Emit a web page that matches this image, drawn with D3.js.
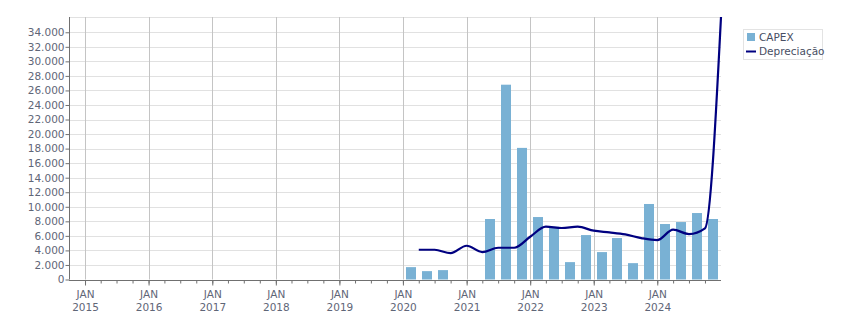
<!DOCTYPE html>
<html>
<head>
<meta charset="utf-8">
<script src="https://cdn.jsdelivr.net/npm/d3@7"></script>
<style>
  html, body { margin: 0; padding: 0; background: #fff; }
  svg text { font-family: "DejaVu Sans", Verdana, sans-serif; }
</style>
</head>
<body>
<svg id="chart" width="851" height="313"></svg>
<script>
// ---- Data ----
const capexDates = ["2020-Q1","2020-Q2","2020-Q3","2021-Q2","2021-Q3","2021-Q4","2022-Q1","2022-Q2","2022-Q3","2022-Q4","2023-Q1","2023-Q2","2023-Q3","2023-Q4","2024-Q1","2024-Q2","2024-Q3","2024-Q4"];
const capexValues = [1700, 1150, 1290, 8320, 26790, 18100, 8590, 7260, 2390, 6110, 3770, 5700, 2250, 10385, 7630, 7900, 9140, 8320];
const deprDates = ["2020-04-01","2020-07-01","2020-10-01","2021-01-01","2021-04-01","2021-07-01","2021-10-01","2022-01-01","2022-04-01","2022-07-01","2022-10-01","2023-01-01","2023-04-01","2023-07-01","2023-10-01","2024-01-01","2024-04-01","2024-07-01","2024-10-01","2025-01-01"];
const deprValues = [4090, 4090, 3630, 4640, 3770, 4365, 4365, 5880, 7260, 7080, 7260, 6710, 6480, 6200, 5700, 5420, 6850, 6250, 7030, 36100];
const yTicks = [0,2000,4000,6000,8000,10000,12000,14000,16000,18000,20000,22000,24000,26000,28000,30000,32000,34000];
const yearTicks = [2015,2016,2017,2018,2019,2020,2021,2022,2023,2024];
const seriesNames = ["CAPEX", "Depreciação"];

// ---- Layout ----
const svg = d3.select("#chart");
const L = 69, R = 721, T = 17, B = 279.5;
const textColor = "#5f6677";

const x = d3.scaleTime()
  .domain([new Date(2014, 9, 1), new Date(2025, 0, 1)])
  .range([L, R]);
const y = d3.scaleLinear().domain([0, 36100]).range([B, T]);

function quarterStart(s) {
  const [yr, q] = s.split("-Q");
  return new Date(+yr, (+q - 1) * 3, 1);
}
function quarterMid(s) {
  const a = quarterStart(s);
  const b = new Date(a.getFullYear(), a.getMonth() + 3, 1);
  return new Date((a.getTime() + b.getTime()) / 2);
}
const parse = d3.timeParse("%Y-%m-%d");

// horizontal gridlines
svg.append("g").selectAll("line").data(yTicks.slice(1).concat([36100]))
  .join("line")
  .attr("x1", L).attr("x2", R)
  .attr("y1", d => Math.round(y(d)) + 0.5).attr("y2", d => Math.round(y(d)) + 0.5)
  .attr("stroke", "#e1e1e1").attr("stroke-width", 1);

// vertical gridlines at JAN
const janDates = yearTicks.map(yr => new Date(yr, 0, 1));
svg.append("g").selectAll("line").data(janDates)
  .join("line")
  .attr("x1", d => Math.round(x(d)) + 0.5).attr("x2", d => Math.round(x(d)) + 0.5)
  .attr("y1", T).attr("y2", B)
  .attr("stroke", "#c4c4c4").attr("stroke-width", 1);

// bars
const barW = 10;
svg.append("g").selectAll("rect").data(capexDates.map((d, i) => ({d: quarterMid(d), v: capexValues[i]})))
  .join("rect")
  .attr("x", d => Math.round(x(d.d) - barW / 2))
  .attr("width", barW)
  .attr("y", d => y(d.v))
  .attr("height", d => B - y(d.v))
  .attr("fill", "#79b1d4");

// line
const lineData = deprDates.map((d, i) => ({d: parse(d), v: deprValues[i]}));
svg.append("defs").append("clipPath").attr("id", "clip")
  .append("rect").attr("x", L).attr("y", T - 1).attr("width", R - L + 2).attr("height", B - T + 1);
svg.append("path")
  .datum(lineData)
  .attr("clip-path", "url(#clip)")
  .attr("fill", "none")
  .attr("stroke", "#000080")
  .attr("stroke-width", 2.2)
  .attr("stroke-linejoin", "round")
  .attr("d", d3.line().x(d => x(d.d)).y(d => y(d.v)).curve(d3.curveMonotoneX));

// y axis
const yAxis = d3.axisLeft(y).tickValues(yTicks).tickSize(4).tickSizeOuter(0)
  .tickFormat(d => d3.format(",")(d).replace(/,/g, "."));
const gy = svg.append("g").attr("transform", `translate(${L + 0.5},0)`).call(yAxis);
gy.select(".domain").attr("stroke", "#707070").attr("d", `M0,${T}V${B}`);
gy.selectAll(".tick line").attr("stroke", "#707070");
gy.selectAll(".tick text").attr("fill", textColor).attr("font-size", 10.5).attr("x", -5);

// x axis: minor quarter ticks
const quarters = d3.timeMonth.every(3).range(new Date(2015, 0, 1), new Date(2025, 0, 1));
const xAxisMinor = d3.axisBottom(x).tickValues(quarters).tickSize(3).tickFormat("").tickSizeOuter(0);
const gxm = svg.append("g").attr("transform", `translate(0,${Math.round(B) + 0.5})`).call(xAxisMinor);
gxm.select(".domain").attr("stroke", "#707070").attr("d", `M${L},0H${R}`);
gxm.selectAll(".tick line").attr("stroke", "#707070");

const xAxis = d3.axisBottom(x).tickValues(janDates).tickSize(5).tickSizeOuter(0).tickFormat("");
const gx = svg.append("g").attr("transform", `translate(0,${Math.round(B) + 0.5})`).call(xAxis);
gx.select(".domain").remove();
gx.selectAll(".tick line").attr("stroke", "#707070");
gx.selectAll(".tick").each(function(d) {
  const t = d3.select(this).append("text").attr("fill", textColor).attr("font-size", 10.5).attr("text-anchor", "middle");
  t.append("tspan").attr("x", 0).attr("y", 17).text("JAN");
  t.append("tspan").attr("x", 0).attr("y", 30).text(d3.timeFormat("%Y")(d));
});

// legend
const lg = svg.append("g");
lg.append("rect").attr("x", 743.5).attr("y", 29.5).attr("width", 79).attr("height", 30)
  .attr("fill", "#fff").attr("stroke", "#e3e3e3");
lg.append("rect").attr("x", 747).attr("y", 33).attr("width", 8).attr("height", 8).attr("fill", "#79b1d4");
lg.append("text").attr("x", 759).attr("y", 41).attr("font-size", 10.5).attr("fill", "#474e63").text(seriesNames[0]);
lg.append("line").attr("x1", 746).attr("x2", 756).attr("y1", 51.5).attr("y2", 51.5).attr("stroke", "#000080").attr("stroke-width", 2);
lg.append("text").attr("x", 759).attr("y", 55).attr("font-size", 10.5).attr("fill", "#474e63").text(seriesNames[1]);
</script>
</body>
</html>
